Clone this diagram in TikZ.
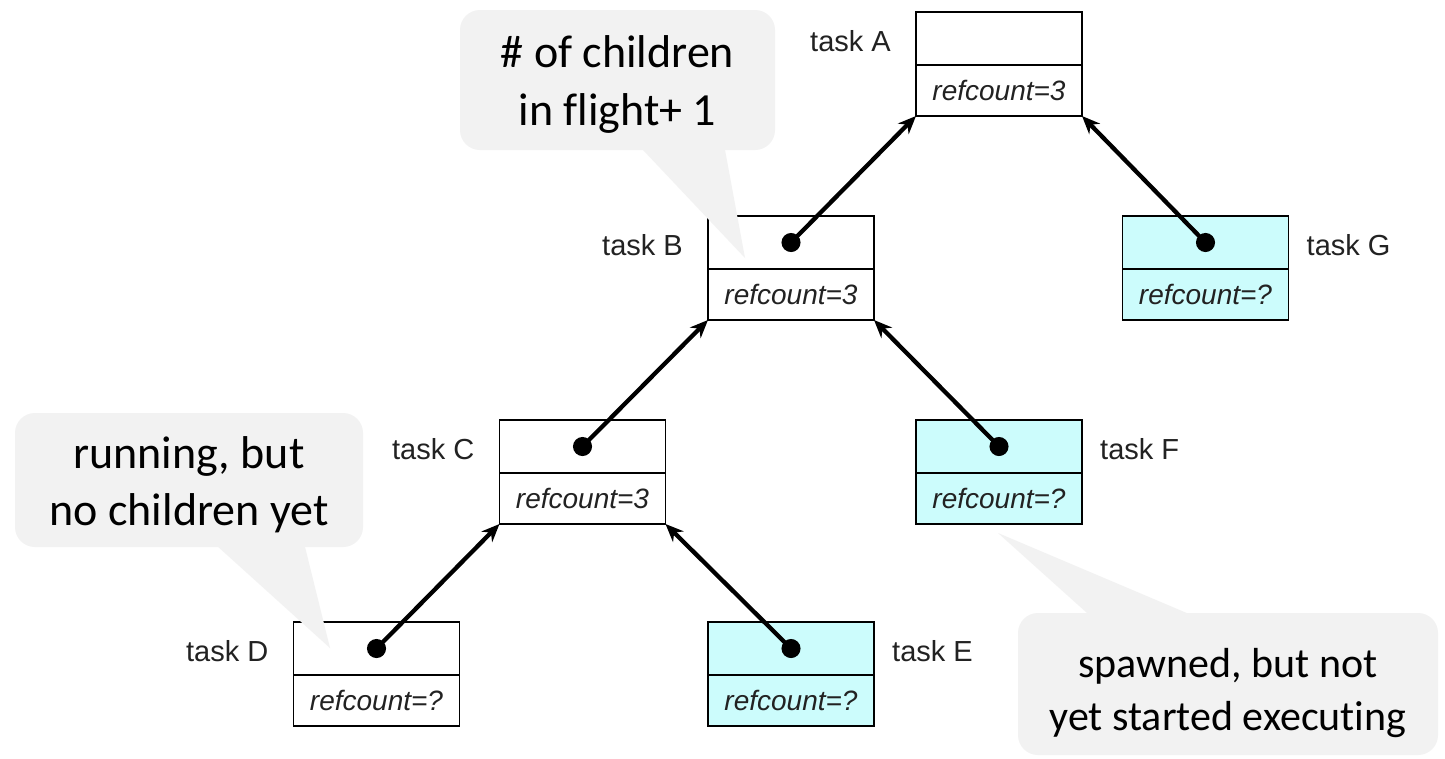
\documentclass[tikz,border=0pt]{standalone}
\usepackage{fontspec}
\setmainfont{Liberation Sans}
\newfontfamily\callfont[Ligatures=NoCommon]{Carlito}
\usetikzlibrary{arrows.meta}

\definecolor{spawned}{HTML}{CCFCFC}
\definecolor{bubblegray}{HTML}{F2F2F2}
\definecolor{ink}{HTML}{222222}

\tikzset{
  taskhead/.style={draw, line width=1.8pt, minimum width=166pt, minimum height=53pt,
    inner sep=0pt, outer sep=0pt},
  taskfoot/.style={draw, line width=1.8pt, minimum width=166pt, minimum height=51pt,
    inner sep=0pt, outer sep=0pt, anchor=north,
    font=\fontsize{28}{34}\selectfont\itshape, text=ink},
  waiting/.style={fill=spawned},
  lbl/.style={font=\fontsize{29}{34}\selectfont, text=ink, inner sep=0pt},
  lblleft/.style={lbl, anchor=base east, xshift=-25pt, yshift=-13pt},
  lblright/.style={lbl, anchor=base west, xshift=18pt, yshift=-13pt},
  link/.style={line width=4.3pt, {Circle[length=19pt]}-{Stealth[length=18pt,width=15pt]},
    shorten <=-9.5pt},
  bubble/.style={fill=bubblegray, rounded corners=20pt, inner sep=0pt},
  calltext/.style={align=center, inner sep=0pt, text=black, anchor=north},
}

\begin{document}
\begin{tikzpicture}[x=1pt, y=-1pt]
  \useasboundingbox[fill=white] (0,0) rectangle (1445,758);

  % task boxes: upper half holds the link dot, lower half the refcount
  \node[taskhead] (A) at (999,38.5) {};
  \node[taskfoot] (Af) at (A.south) {refcount=3};

  \node[taskhead] (B) at (791,242.5) {};
  \node[taskfoot] (Bf) at (B.south) {refcount=3};

  \node[taskhead, waiting] (G) at (1205.5,242.5) {};
  \node[taskfoot, waiting] (Gf) at (G.south) {refcount=?};

  \node[taskhead] (C) at (582.5,446.5) {};
  \node[taskfoot] (Cf) at (C.south) {refcount=3};

  \node[taskhead, waiting] (F) at (999,446.5) {};
  \node[taskfoot, waiting] (Ff) at (F.south) {refcount=?};

  \node[taskhead] (D) at (376.5,648.5) {};
  \node[taskfoot] (Df) at (D.south) {refcount=?};

  \node[taskhead, waiting] (E) at (791,648.5) {};
  \node[taskfoot, waiting] (Ef) at (E.south) {refcount=?};

  % task names
  \node[lblleft]  (lA) at (A.west) {task A};
  \node[lblleft]  (lB) at (B.west) {task B};
  \node[lblright] (lG) at (G.east) {task G};
  \node[lblleft]  (lC) at (C.west) {task C};
  \node[lblright] (lF) at (F.east) {task F};
  \node[lblleft]  (lD) at (D.west) {task D};
  \node[lblright] (lE) at (E.east) {task E};

  % child -> parent links
  \draw[link] (B.center) -- (Af.south west);
  \draw[link] (G.center) -- (Af.south east);
  \draw[link] (C.center) -- (Bf.south west);
  \draw[link] (F.center) -- (Bf.south east);
  \draw[link] (D.center) -- (Cf.south west);
  \draw[link] (E.center) -- (Cf.south east);

  % callouts
  \node[bubble, minimum width=315pt, minimum height=140pt] (b1) at (617.5,80) {};
  \fill[bubblegray] (638.3,145) -- (745,258) -- (724.1,145) -- cycle;
  \node[calltext, font=\callfont\fontsize{46}{58}\selectfont] (t1) at (617.5,35)
    {\# of children\\in flight+ 1};

  \node[bubble, minimum width=348pt, minimum height=134pt] (b2) at (189,480) {};
  \fill[bubblegray] (212.7,542) -- (330,648) -- (303.8,542) -- cycle;
  \node[calltext, font=\callfont\fontsize{46}{57}\selectfont] (t2) at (189,436)
    {running, but\\no children yet};

  \node[bubble, minimum width=420pt, minimum height=142pt] (b3) at (1228,684) {};
  \fill[bubblegray] (1092.6,618) -- (998,533) -- (1198.5,618) -- cycle;
  \node[calltext, font=\callfont\fontsize{42}{53}\selectfont] (t3) at (1228,648)
    {spawned, but not\\yet started executing};
\end{tikzpicture}
\end{document}
